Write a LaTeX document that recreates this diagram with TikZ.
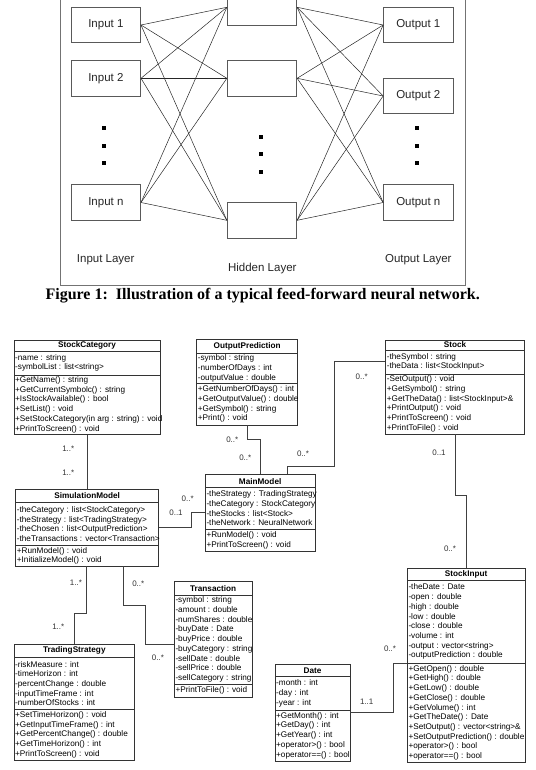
\documentclass[tikz,border=0pt]{standalone}
\usepackage{fontspec}
\setmainfont{Liberation Sans}
\newfontfamily\capfont{Liberation Serif}
\usetikzlibrary{fit}
\tikzset{
  nnbox/.style={draw=black!65, line width=0.9pt, minimum width=69.4pt, minimum height=35.4pt, inner sep=0pt, font=\fontsize{11.5}{13}\selectfont, text=black!85},
  nnline/.style={line width=0.5pt, draw=black!85},
  nndot/.style={fill=black, minimum size=4pt, inner sep=0pt},
  layerlab/.style={font=\fontsize{11.5}{13}\selectfont, text=black!85},
  clsbox/.style={draw=black!80, line width=0.8pt, inner sep=0pt},
  clssep/.style={draw=black!80, line width=0.8pt},
  clstitle/.style={font=\bfseries\fontsize{8.2}{9.7}\selectfont, inner sep=0pt},
  clstext/.style={font=\fontsize{8.2}{9.7}\selectfont, align=left, inner sep=0pt, anchor=west},
  conn/.style={draw=black!75, line width=0.8pt},
  mult/.style={font=\fontsize{8}{9}\selectfont, text=black!80, inner sep=0pt},
}
\newcommand\umlcls[8]{%
  \node[clsbox, fit={(#2,#3) (#4,#7)}] (#1) {};
  \draw[clssep] (#2,#5) -- (#4,#5);
  \draw[clssep] (#2,#6) -- (#4,#6);
  \node[clstitle] at ({(#2+#4)/2},{(#3+#5)/2}) {#8};
  \def\umlL{#2}\def\umlA{#5}\def\umlB{#6}\def\umlC{#7}%
}
\newcommand\umlrows[2]{%
  \node[clstext] at ({\umlL+1},{(\umlA+\umlB)/2}) {#1};
  \node[clstext] at ({\umlL+1},{(\umlB+\umlC)/2}) {#2};
}
\begin{document}
\begin{tikzpicture}[x=1pt,y=-1pt]
\clip (0,0) rectangle (535,770);
% ---------------- neural network figure ----------------
\draw[draw=black!55, line width=0.9pt] (60,-20) rectangle (465,285);
\node[nnbox] (i1) at (105.85,25) {Input 1};
\node[nnbox] (i2) at (105.85,78.3) {Input 2};
\node[nnbox] (in) at (105.85,202.5) {Input n};
\node[nnbox] (h1) at (262,7.3) {};
\node[nnbox] (h2) at (262,78.3) {};
\node[nnbox] (hn) at (262,220.3) {};
\node[nnbox] (o1) at (418.3,25) {Output 1};
\node[nnbox] (o2) at (418.3,96) {Output 2};
\node[nnbox] (on) at (418.3,202.5) {Output n};
\foreach \a in {i1,i2,in}{\foreach \b in {h1,h2,hn}{\draw[nnline] (\a.east) -- (\b.west);}}
\foreach \a in {h1,h2,hn}{\foreach \b in {o1,o2,on}{\draw[nnline] (\a.east) -- (\b.west);}}
\node[nndot] (d1) at (104.3,127.7) {};
\node[nndot] (d2) at (104.3,145.7) {};
\node[nndot] (d3) at (104.3,163.3) {};
\node[nndot] (d4) at (260.7,136.7) {};
\node[nndot] (d5) at (260.7,154.3) {};
\node[nndot] (d6) at (260.7,172.3) {};
\node[nndot] (d7) at (416.7,127.7) {};
\node[nndot] (d8) at (416.7,145.7) {};
\node[nndot] (d9) at (416.7,163.3) {};
\node[layerlab] (l1) at (105.7,260) {Input Layer};
\node[layerlab] (l2) at (262.3,268.7) {Hidden Layer};
\node[layerlab] (l3) at (418.3,260) {Output Layer};
\node[font=\capfont\bfseries\fontsize{16}{18}\selectfont] (cap) at (262.7,296) {Figure 1:~~Illustration of a typical feed-forward neural network.};
% ---------------- UML classes ----------------
\umlcls{sc}{14}{340}{160}{351}{375}{434.3}{StockCategory}
\umlrows{-name : string\\-symbolList : list<string>}{+GetName() : string\\+GetCurrentSymbolc() : string\\+IsStockAvailable() : bool\\+SetList() : void\\+SetStockCategory(in arg : string) : void\\+PrintToScreen() : void}
\umlcls{op}{196.7}{339.3}{297.7}{353.3}{383.3}{425}{OutputPrediction}
\umlrows{-symbol : string\\-numberOfDays : int\\-outputValue : double}{+GetNumberOfDays() : int\\+GetOutputValue() : double\\+GetSymbol() : string\\+Print() : void}
\umlcls{st}{385.7}{340}{524.5}{350}{374}{434}{Stock}
\umlrows{-theSymbol : string\\-theData : list<StockInput>}{-SetOutput() : void\\+GetSymbol() : string\\+GetTheData() : list<StockInput>\&\\+PrintOutput() : void\\+PrintToScreen() : void\\+PrintToFile() : void}
\umlcls{mm}{205.3}{474.7}{315}{487.7}{529.3}{551}{MainModel}
\umlrows{-theStrategy : TradingStrategy\\-theCategory : StockCategory\\-theStocks : list<Stock>\\-theNetwork : NeuralNetwork}{+RunModel() : void\\+PrintToScreen() : void}
\umlcls{sm}{15.7}{489.3}{158.7}{502.3}{545.7}{566}{SimulationModel}
\umlrows{-theCategory : list<StockCategory>\\-theStrategy : list<TradingStrategy>\\-theChosen : list<OutputPrediction>\\-theTransactions : vector<Transaction>}{+RunModel() : void\\+InitializeModel() : void}
\umlcls{tr}{174.3}{581.7}{252}{595}{684}{697.7}{Transaction}
\umlrows{-symbol : string\\-amount : double\\-numShares : double\\-buyDate : Date\\-buyPrice : double\\-buyCategory : string\\-sellDate : double\\-sellPrice : double\\-sellCategory : string}{+PrintToFile() : void}
\umlcls{ts}{14}{644}{134.7}{657.7}{709.3}{760}{TradingStrategy}
\umlrows{-riskMeasure : int\\-timeHorizon : int\\-percentChange : double\\-inputTimeFrame : int\\-numberOfStocks : int}{+SetTimeHorizon() : void\\+GetInputTimeFrame() : int\\+GetPercentChange() : double\\+GetTimeHorizon() : int\\+PrintToScreen() : void}
\umlcls{dt}{275}{664}{350}{676.7}{710}{761}{Date}
\umlrows{-month : int\\-day : int\\-year : int}{+GetMonth() : int\\+GetDay() : int\\+GetYear() : int\\+operator>() : bool\\+operator==() : bool}
\umlcls{si}{407.3}{568}{525}{580}{663.5}{762}{StockInput}
\umlrows{-theDate : Date\\-open : double\\-high : double\\-low : double\\-close : double\\-volume : int\\-output : vector<string>\\-outputPrediction : double}{+GetOpen() : double\\+GetHigh() : double\\+GetLow() : double\\+GetClose() : double\\+GetVolume() : int\\+GetTheDate() : Date\\+SetOutput() : vector<string>\&\\+SetOutputPrediction() : double\\+operator>() : bool\\+operator==() : bool}
% ---------------- connectors ----------------
\draw[conn] (sc.south -| 87,0) -- (sm.north -| 87,0);
\draw[conn] (op.south -| 247.7,0) |- (260,439) -- (mm.north -| 260,0);
\draw[conn] (st.west |- 0,361.7) -| (334.3,466.7) -| (mm.north -| 287.7,0);
\draw[conn] (sm.east |- 0,527) -| (191.7,512.7) -- (mm.west |- 0,512.7);
\draw[conn] (sm.south -| 86.7,0) |- (74,613.3) -- (ts.north -| 74,0);
\draw[conn] (sm.south -| 123.3,0) |- (145.3,605.5) |- (tr.west |- 0,644);
\draw[conn] (st.south -| 455,0) |- (466,495) -- (si.north -| 466,0);
\draw[conn] (dt.east |- 0,712.7) -| (393.3,663.5) -- (si.west |- 0,663.5);
% multiplicities
\node[mult] at (68.3,449) {1..*};
\node[mult] at (68.3,472.7) {1..*};
\node[mult] at (232.3,440) {0..*};
\node[mult] at (245.3,457.5) {0..*};
\node[mult] at (361.7,376.7) {0..*};
\node[mult] at (303,454) {0..*};
\node[mult] at (187.7,499) {0..*};
\node[mult] at (176,512.7) {0..1};
\node[mult] at (76,582.7) {1..*};
\node[mult] at (58.3,626.7) {1..*};
\node[mult] at (138.3,584) {0..*};
\node[mult] at (158,657.5) {0..*};
\node[mult] at (439,452.3) {0..1};
\node[mult] at (450,548.3) {0..*};
\node[mult] at (366.7,701.7) {1..1};
\node[mult] at (390,649) {0..*};
\end{tikzpicture}
\end{document}
